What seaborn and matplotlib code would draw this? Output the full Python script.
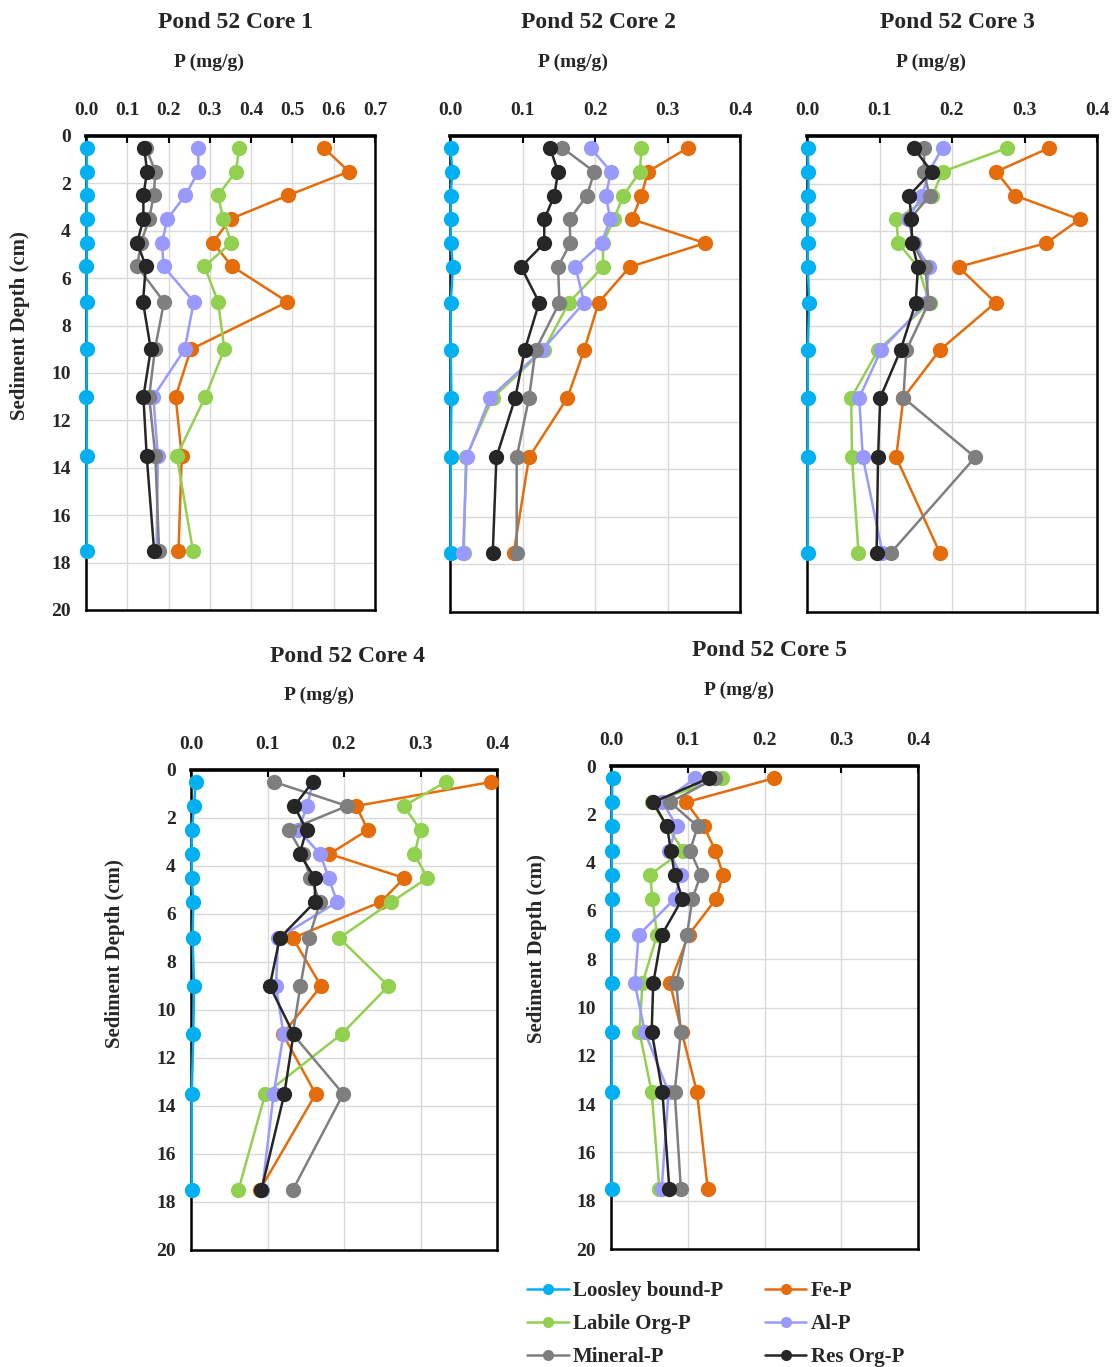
import numpy as np
import pandas as pd
import matplotlib
matplotlib.use("Agg")
import matplotlib.pyplot as plt
import seaborn as sns
from matplotlib.lines import Line2D

sns.set_theme(style="white")
plt.rcParams["font.family"] = ["Liberation Serif", "DejaVu Serif"]
plt.rcParams["font.weight"] = "bold"

# Sampling depths (cm) shared by all cores
depths = [0.5, 1.5, 2.5, 3.5, 4.5, 5.5, 7, 9, 11, 13.5, 17.5]

fractions = ["Loosley bound-P", "Fe-P", "Labile Org-P", "Al-P", "Mineral-P", "Res Org-P"]
colors = {
    "Loosley bound-P": "#00B0F0",
    "Fe-P": "#E46C0A",
    "Labile Org-P": "#92D050",
    "Al-P": "#9999FF",
    "Mineral-P": "#7F7F7F",
    "Res Org-P": "#262626",
}

# P fractions (mg/g) for each core, top to bottom
core1_loose = [0.002, 0.002, 0.002, 0.002, 0.002, 0.001, 0.002, 0.002, 0.001, 0.002, 0.002]
core1_fe = [0.576, 0.637, 0.490, 0.350, 0.307, 0.354, 0.488, 0.254, 0.217, 0.232, 0.224]
core1_labile = [0.371, 0.363, 0.320, 0.332, 0.352, 0.287, 0.320, 0.335, 0.289, 0.220, 0.259]
core1_al = [0.272, 0.272, 0.241, 0.197, 0.184, 0.188, 0.261, 0.239, 0.163, 0.174, 0.171]
core1_mineral = [0.145, 0.168, 0.164, 0.153, 0.133, 0.124, 0.189, 0.167, 0.153, 0.168, 0.177]
core1_res = [0.141, 0.148, 0.139, 0.139, 0.124, 0.145, 0.138, 0.157, 0.139, 0.147, 0.165]

core2_loose = [0.001, 0.003, 0.001, 0.001, 0.001, 0.004, 0.001, 0.001, 0.002, 0.001, 0.001]
core2_fe = [0.328, 0.273, 0.264, 0.251, 0.352, 0.248, 0.205, 0.185, 0.162, 0.109, 0.088]
core2_labile = [0.264, 0.262, 0.239, 0.226, 0.211, 0.211, 0.164, 0.129, 0.059, 0.022, 0.019]
core2_al = [0.194, 0.222, 0.215, 0.221, 0.209, 0.173, 0.185, 0.127, 0.055, 0.023, 0.018]
core2_mineral = [0.155, 0.199, 0.189, 0.165, 0.166, 0.149, 0.151, 0.118, 0.109, 0.092, 0.092]
core2_res = [0.138, 0.149, 0.144, 0.130, 0.130, 0.098, 0.123, 0.103, 0.090, 0.064, 0.059]

core3_loose = [0.001, 0.002, 0.002, 0.001, 0.001, 0.001, 0.003, 0.001, 0.001, 0.001, 0.001]
core3_fe = [0.334, 0.261, 0.287, 0.376, 0.330, 0.209, 0.260, 0.183, 0.133, 0.123, 0.183]
core3_labile = [0.276, 0.187, 0.173, 0.123, 0.126, 0.153, 0.169, 0.098, 0.061, 0.062, 0.071]
core3_al = [0.187, 0.168, 0.159, 0.139, 0.148, 0.168, 0.164, 0.102, 0.072, 0.077, 0.104]
core3_mineral = [0.162, 0.161, 0.169, 0.142, 0.146, 0.163, 0.168, 0.137, 0.133, 0.232, 0.116]
core3_res = [0.147, 0.172, 0.141, 0.144, 0.145, 0.153, 0.150, 0.129, 0.101, 0.098, 0.096]

core4_loose = [0.006, 0.004, 0.001, 0.001, 0.001, 0.003, 0.002, 0.004, 0.003, 0.001, 0.001]
core4_fe = [0.392, 0.216, 0.231, 0.181, 0.279, 0.248, 0.133, 0.170, 0.120, 0.163, 0.090]
core4_labile = [0.333, 0.278, 0.300, 0.292, 0.309, 0.262, 0.194, 0.258, 0.197, 0.097, 0.062]
core4_al = [0.159, 0.152, 0.140, 0.169, 0.180, 0.191, 0.114, 0.111, 0.121, 0.108, 0.093]
core4_mineral = [0.109, 0.204, 0.128, 0.146, 0.156, 0.169, 0.154, 0.143, 0.133, 0.199, 0.133]
core4_res = [0.159, 0.135, 0.151, 0.142, 0.162, 0.162, 0.116, 0.103, 0.134, 0.122, 0.092]

core5_loose = [0.002, 0.001, 0.001, 0.001, 0.001, 0.001, 0.001, 0.001, 0.001, 0.001, 0.001]
core5_fe = [0.213, 0.098, 0.121, 0.136, 0.146, 0.137, 0.101, 0.077, 0.092, 0.112, 0.126]
core5_labile = [0.145, 0.053, 0.073, 0.094, 0.051, 0.054, 0.060, 0.041, 0.037, 0.053, 0.063]
core5_al = [0.110, 0.067, 0.086, 0.075, 0.091, 0.083, 0.036, 0.031, 0.044, 0.075, 0.066]
core5_mineral = [0.136, 0.077, 0.113, 0.103, 0.117, 0.106, 0.099, 0.085, 0.091, 0.083, 0.091]
core5_res = [0.128, 0.055, 0.073, 0.078, 0.083, 0.093, 0.066, 0.055, 0.053, 0.067, 0.076]

cores = {
    "Pond 52 Core 1": [core1_loose, core1_fe, core1_labile, core1_al, core1_mineral, core1_res],
    "Pond 52 Core 2": [core2_loose, core2_fe, core2_labile, core2_al, core2_mineral, core2_res],
    "Pond 52 Core 3": [core3_loose, core3_fe, core3_labile, core3_al, core3_mineral, core3_res],
    "Pond 52 Core 4": [core4_loose, core4_fe, core4_labile, core4_al, core4_mineral, core4_res],
    "Pond 52 Core 5": [core5_loose, core5_fe, core5_labile, core5_al, core5_mineral, core5_res],
}

W, H = 1112, 1367
fig = plt.figure(figsize=(W / 100, H / 100), dpi=100)


def px_axes(left, top, right, bottom):
    return fig.add_axes([left / W, 1 - bottom / H, (right - left) / W, (bottom - top) / H])


# name: (axes box in px, xmax, title pos, xlabel pos, ylabel pos, show y tick labels)
layout = {
    "Pond 52 Core 1": ((86, 136, 375, 610), 0.7, (235, 22), (209, 62), (20, 326), True),
    "Pond 52 Core 2": ((450, 136, 740, 612), 0.4, (598, 22), (573, 62), None, False),
    "Pond 52 Core 3": ((807, 136, 1097, 612), 0.4, (957, 22), (931, 62), None, False),
    "Pond 52 Core 4": ((191, 770, 497, 1250), 0.4, (348, 656), (319, 695), (115, 954), True),
    "Pond 52 Core 5": ((611, 766, 918, 1249), 0.4, (769, 651), (739, 690), (537, 949), True),
}

for name, series in cores.items():
    box, xmax, tpos, xlpos, ylpos, show_y = layout[name]
    ax = px_axes(*box)
    df = pd.concat(
        [pd.DataFrame({"depth": depths, "P": vals, "fraction": frac})
         for frac, vals in zip(fractions, series)],
        ignore_index=True,
    )
    sns.lineplot(
        data=df, x="P", y="depth", hue="fraction", hue_order=fractions,
        palette=colors, orient="y", sort=True, estimator=None,
        marker="o", markersize=11, markeredgewidth=0, linewidth=1.8,
        legend=False, ax=ax, clip_on=False, zorder=3,
    )
    ticks = np.round(np.arange(0, xmax + 0.001, 0.1), 1)
    ax.set_xlim(0, xmax)
    ax.set_ylim(20, 0)
    ax.set_xticks(ticks)
    ax.set_xticklabels([f"{t:.1f}" for t in ticks])
    ax.set_yticks(range(0, 21, 2))
    ax.xaxis.tick_top()
    ax.grid(True, color="#D9D9D9", linewidth=1.0)
    ax.set_axisbelow(True)
    ax.tick_params(axis="x", direction="in", length=5, width=1.5, color="black",
                   pad=12.5, labelsize=14)
    ax.tick_params(axis="y", direction="in", length=5, width=1.5, color="black",
                   pad=11, labelsize=14, labelleft=show_y)
    for lab in ax.get_xticklabels() + ax.get_yticklabels():
        lab.set_fontweight("bold")
    for side in ["left", "right", "bottom"]:
        ax.spines[side].set_color("black")
        ax.spines[side].set_linewidth(1.8)
    ax.spines["top"].set_color("black")
    ax.spines["top"].set_linewidth(2.6)
    ax.set_xlabel("")
    ax.set_ylabel("")
    fig.text(tpos[0] / W, 1 - tpos[1] / H, name, ha="center", va="center",
             fontsize=17, fontweight="bold")
    fig.text(xlpos[0] / W, 1 - xlpos[1] / H, "P (mg/g)", ha="center", va="center",
             fontsize=14, fontweight="bold")
    if ylpos is not None:
        fig.text(ylpos[0] / W, 1 - ylpos[1] / H, "Sediment Depth (cm)", ha="center",
                 va="center", rotation=90, fontsize=15, fontweight="bold")

# Legend below the lower cores
order = ["Loosley bound-P", "Labile Org-P", "Mineral-P", "Fe-P", "Al-P", "Res Org-P"]
handles = [Line2D([0], [0], color=colors[f], marker="o", markersize=8,
                  markeredgewidth=0, linewidth=1.8) for f in order]
fig.legend(handles, order, loc="upper left", bbox_to_anchor=(527 / W, 1 - 1281 / H),
           ncol=2, frameon=False, prop={"size": 15, "weight": "bold"},
           handlelength=2.0, handletextpad=0.2, columnspacing=2.0, labelspacing=0.62,
           borderaxespad=0, borderpad=0)

fig.savefig("out.png", dpi=100)
